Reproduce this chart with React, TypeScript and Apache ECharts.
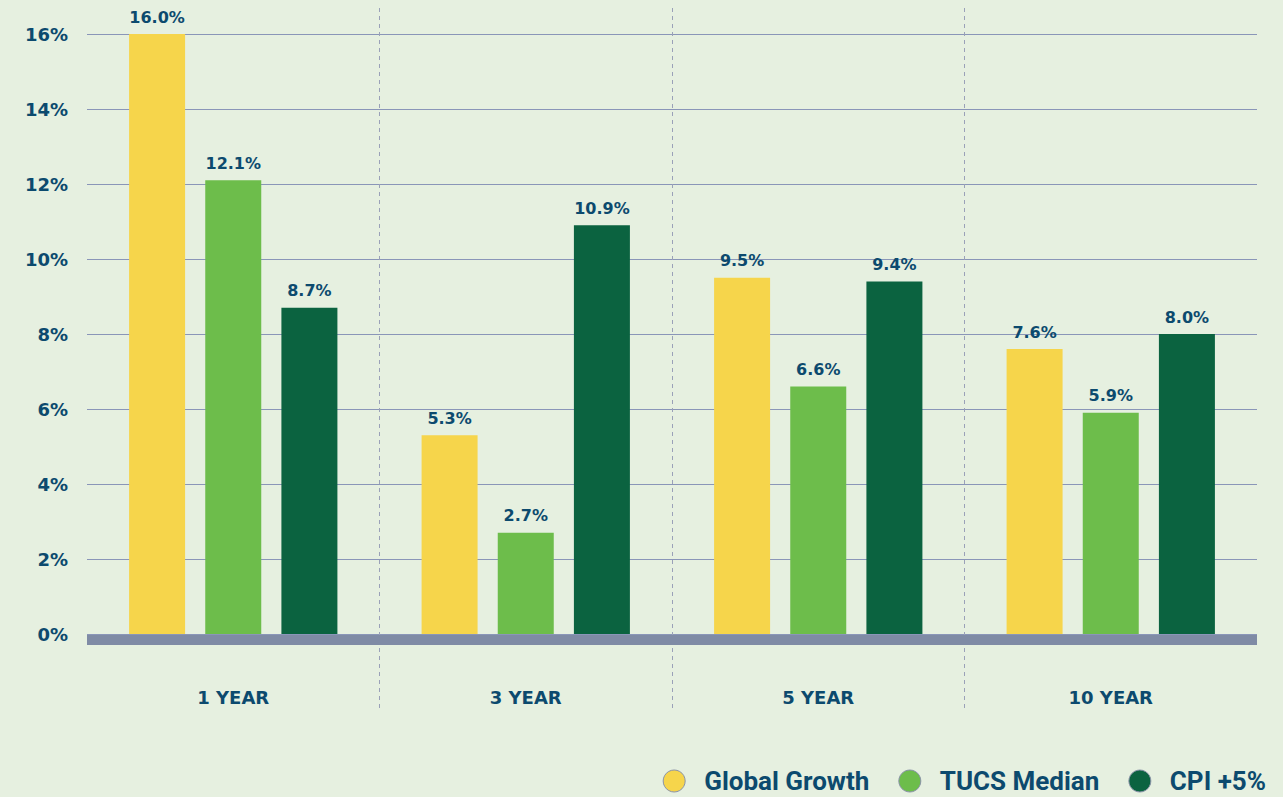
import React, { useEffect, useRef } from "react";
import * as echarts from "echarts";

const categories = ["1 YEAR", "3 YEAR", "5 YEAR", "10 YEAR"];
const globalGrowth = [16.0, 5.3, 9.5, 7.6];
const tucsMedian = [12.1, 2.7, 6.6, 5.9];
const cpiPlus5 = [8.7, 10.9, 9.4, 8.0];
const seriesNames = ["Global Growth", "TUCS Median", "CPI +5%"];
const colors = ["#f6d54b", "#6dbd4b", "#0b6340"];

const TEXT = "#0c4a6e";
const FONT = "'DejaVu Sans', sans-serif";

export default function App() {
  const ref = useRef<HTMLDivElement>(null);
  useEffect(() => {
    if (!ref.current) return;
    document.body.style.margin = "0";
    const chart = echarts.init(ref.current, null, { renderer: "svg" });
    const mkSeries = (name: string, data: number[], color: string) => ({
      name,
      type: "bar",
      xAxisIndex: 0,
      yAxisIndex: 0,
      data,
      barWidth: 56,
      barGap: "36%",
      itemStyle: { color },
      label: {
        show: true,
        position: "top",
        distance: 9,
        formatter: (p: any) => p.value.toFixed(1) + "%",
        color: TEXT,
        fontFamily: FONT,
        fontWeight: "bold",
        fontSize: 16,
      },
    });
    chart.setOption({
      animation: false,
      backgroundColor: "#e6f0e0",
      grid: [
        { left: 87, right: 26, top: 34, bottom: 163 },
        { left: 87, right: 26, top: 8, bottom: 85 },
      ],
      legend: {
        data: seriesNames.map((n) => ({ name: n, icon: "circle" })),
        right: 17,
        top: 768,
        padding: 0,
        itemWidth: 22,
        itemHeight: 22,
        itemGap: 29,
        textStyle: {
          color: TEXT,
          fontFamily: "Roboto, sans-serif",
          fontWeight: "bold",
          fontSize: 26,
          lineHeight: 26,
          padding: [0, 0, 0, 14],
        },
        itemStyle: { borderColor: "#8a93a8", borderWidth: 1 },
      },
      xAxis: [
        {
          type: "category",
          gridIndex: 0,
          data: categories,
          offset: 6,
          axisLine: {
            show: true,
            onZero: false,
            lineStyle: { color: "#7f8ba5", width: 10, cap: "butt" },
          },
          axisTick: { show: false },
          axisLabel: {
            color: TEXT,
            fontFamily: FONT,
            fontWeight: "bold",
            fontSize: 18,
            margin: 48,
          },
          splitLine: { show: false },
        },
        {
          type: "category",
          gridIndex: 1,
          data: categories,
          axisLine: { show: false },
          axisTick: { show: false },
          axisLabel: { show: false },
          splitLine: {
            show: true,
            showMinLine: false,
            showMaxLine: false,
            lineStyle: { color: "#9aa1b8", type: [4, 4], width: 1 },
          },
        },
      ],
      yAxis: [
        {
          type: "value",
          gridIndex: 0,
          min: 0,
          max: 16,
          interval: 2,
          axisLine: { show: false },
          axisTick: { show: false },
          axisLabel: {
            formatter: "{value}%",
            color: TEXT,
            fontFamily: FONT,
            fontWeight: "bold",
            fontSize: 18,
            margin: 19,
          },
          splitLine: { show: true, lineStyle: { color: "#8a96b8", width: 1 } },
        },
        {
          type: "value",
          gridIndex: 1,
          show: false,
          splitLine: { show: false },
        },
      ],
      series: [
        mkSeries(seriesNames[0], globalGrowth, colors[0]),
        mkSeries(seriesNames[1], tucsMedian, colors[1]),
        mkSeries(seriesNames[2], cpiPlus5, colors[2]),
      ],
    });
    return () => chart.dispose();
  }, []);
  return (
    <div
      ref={ref}
      style={{ position: "fixed", left: 0, top: 0, width: 1283, height: 797 }}
    />
  );
}
